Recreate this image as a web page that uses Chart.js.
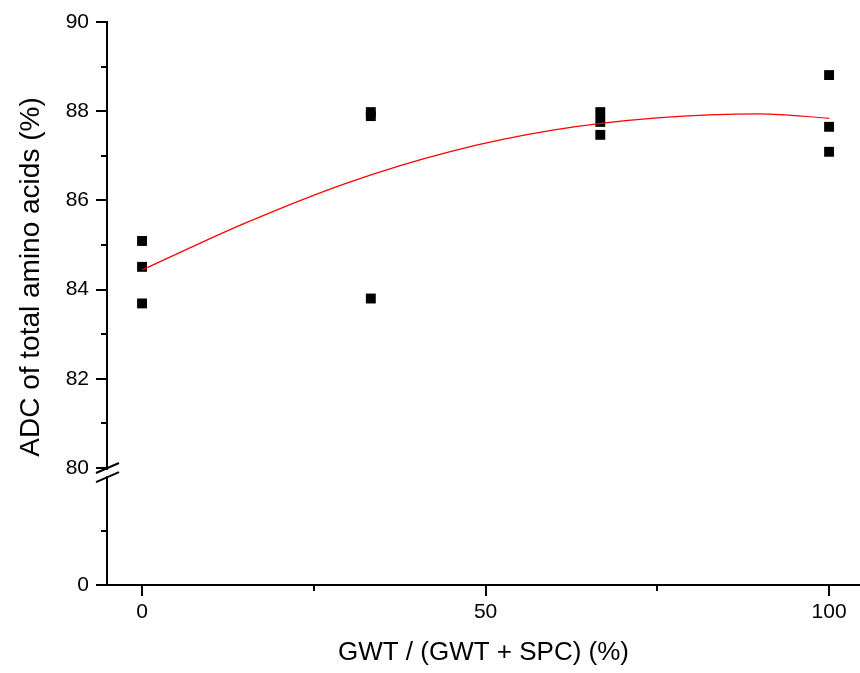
<!DOCTYPE html>
<html lang="en">
<head>
<meta charset="UTF-8">
<title>ADC of total amino acids</title>
<script src="https://cdn.jsdelivr.net/npm/chart.js"></script>
<style>
  body { margin: 0; background: #fff; }
  canvas { display: block; }
</style>
</head>
<body>
<canvas id="chart" width="860" height="673"></canvas>
<script>
// measured points (GWT share vs ADC)
const groupX = [0, 0, 0, 33.3, 33.3, 33.3, 66.7, 66.7, 66.7, 100, 100, 100];
const adcY = [85.09, 84.51, 83.69, 87.98, 87.89, 83.80, 87.98, 87.76, 87.47, 88.81, 87.65, 87.09];

// fitted curve
const fitX = [0, 15, 30, 45, 60, 75, 90, 100];
const fitY = [84.44, 85.49, 86.40, 87.10, 87.58, 87.85, 87.94, 87.84];

// ticks
const xMajor = [0, 50, 100];
const xMinor = [25, 75];
const yHighMajor = [80, 82, 84, 86, 88, 90];
const yHighMinor = [81, 83, 85, 87, 89];
const yLowMajor = [0];
const yLowMinor = [40];

const FONT = "'Liberation Sans', Arial, sans-serif";

function setTicks(list) {
  return scale => { scale.ticks = list.map(v => ({ value: v })); };
}

// axis lines, tick marks of two lengths, axis break, y title
const tickMarks = {
  id: 'tickMarks',
  afterDraw(chart) {
    const ctx = chart.ctx;
    const { x, yHigh, yLow } = chart.scales;
    ctx.save();
    ctx.strokeStyle = '#000';
    ctx.lineWidth = 2;
    ctx.beginPath();
    const ax = Math.round(yHigh.right);
    ctx.moveTo(ax, Math.min(yHigh.top, yLow.top) - 1);
    ctx.lineTo(ax, Math.max(yHigh.bottom, yLow.bottom) + 1);
    const xt = (vals, len) => vals.forEach(v => {
      const px = Math.round(x.getPixelForValue(v));
      ctx.moveTo(px, x.top); ctx.lineTo(px, x.top + len);
    });
    const yt = (s, vals, len) => vals.forEach(v => {
      const py = Math.round(s.getPixelForValue(v));
      ctx.moveTo(ax, py); ctx.lineTo(ax - len, py);
    });
    xt(xMajor, 11); xt(xMinor, 6);
    yt(yHigh, yHighMajor, 11); yt(yHigh, yHighMinor, 6);
    yt(yLow, yLowMajor, 11); yt(yLow, yLowMinor, 6);
    ctx.stroke();

    // axis break
    const b1 = yHigh.getPixelForValue(80);
    const b2 = yLow.getPixelForValue(80);
    ctx.fillStyle = '#fff';
    ctx.fillRect(ax - 3, b1 + 2, 6, b2 - b1 - 2);
    ctx.beginPath();
    [b1, b2 + 1].forEach(b => {
      ctx.moveTo(ax - 11, b + 5);
      ctx.lineTo(ax + 12, b - 5);
    });
    ctx.stroke();

    // y title
    ctx.fillStyle = '#000';
    ctx.font = '28px ' + FONT;
    ctx.textAlign = 'center';
    ctx.textBaseline = 'middle';
    ctx.translate(31, 277);
    ctx.rotate(-Math.PI / 2);
    ctx.fillText('ADC of total amino acids (%)', 0, 0);
    ctx.restore();
  }
};

const axisBase = {
  grid: { drawOnChartArea: false, drawTicks: true, tickLength: 11, color: 'rgba(0,0,0,0)' },
  border: { display: true, color: '#000', width: 2 }
};

new Chart(document.getElementById('chart'), {
  type: 'scatter',
  data: {
    datasets: [
      {
        type: 'line',
        label: 'fit',
        data: fitX.map((v, i) => ({ x: v, y: fitY[i] })),
        borderColor: '#ff0000',
        borderWidth: 1.2,
        pointRadius: 0,
        cubicInterpolationMode: 'monotone',
        fill: false,
        yAxisID: 'yHigh',
        order: 0
      },
      {
        label: 'ADC',
        data: groupX.map((v, i) => ({ x: v, y: adcY[i] })),
        pointStyle: 'rect',
        pointRadius: 7,
        backgroundColor: '#000',
        borderColor: '#000',
        borderWidth: 0,
        yAxisID: 'yHigh',
        order: 1
      }
    ]
  },
  options: {
    responsive: false,
    animation: false,
    devicePixelRatio: 1,
    layout: { autoPadding: false, padding: { top: 22, right: 0, left: 0, bottom: 0 } },
    plugins: { legend: { display: false }, tooltip: { enabled: false } },
    scales: {
      x: {
        type: 'linear',
        position: 'bottom',
        min: -5.1,
        max: 104.5,
        afterBuildTicks: setTicks(xMajor.concat(xMinor).sort((a, b) => a - b)),
        afterFit: s => { s.height = 88; s.paddingLeft = 0; s.paddingRight = 0; },
        ticks: {
          autoSkip: false, maxRotation: 0, padding: 4, color: '#000',
          font: { family: FONT, size: 21 },
          callback: v => xMajor.includes(v) ? String(v) : ''
        },
        title: {
          display: true, text: 'GWT / (GWT + SPC) (%)', color: '#000',
          font: { family: FONT, size: 26 }, padding: { top: 0, bottom: 5 }
        },
        ...axisBase
      },
      yLow: {
        type: 'linear',
        position: 'left',
        stack: 'y',
        stackWeight: 117,
        min: 0,
        max: 86,
        afterBuildTicks: setTicks(yLowMajor.concat(yLowMinor)),
        afterFit: s => { s.width = 107; s.paddingTop = 0; s.paddingBottom = 0; },
        ticks: {
          autoSkip: false, padding: 7, color: '#000',
          font: { family: FONT, size: 21 },
          callback: v => yLowMajor.includes(v) ? String(v) : ''
        },
        ...axisBase
      },
      yHigh: {
        type: 'linear',
        position: 'left',
        stack: 'y',
        stackWeight: 446,
        min: 80,
        max: 90,
        afterBuildTicks: setTicks(yHighMajor.concat(yHighMinor).sort((a, b) => a - b)),
        afterFit: s => { s.width = 107; s.paddingTop = 0; s.paddingBottom = 0; },
        ticks: {
          autoSkip: false, padding: 7, color: '#000',
          font: { family: FONT, size: 21 },
          callback: v => yHighMajor.includes(v) ? String(v) : ''
        },
        ...axisBase
      }
    }
  },
  plugins: [tickMarks]
});
</script>
</body>
</html>
